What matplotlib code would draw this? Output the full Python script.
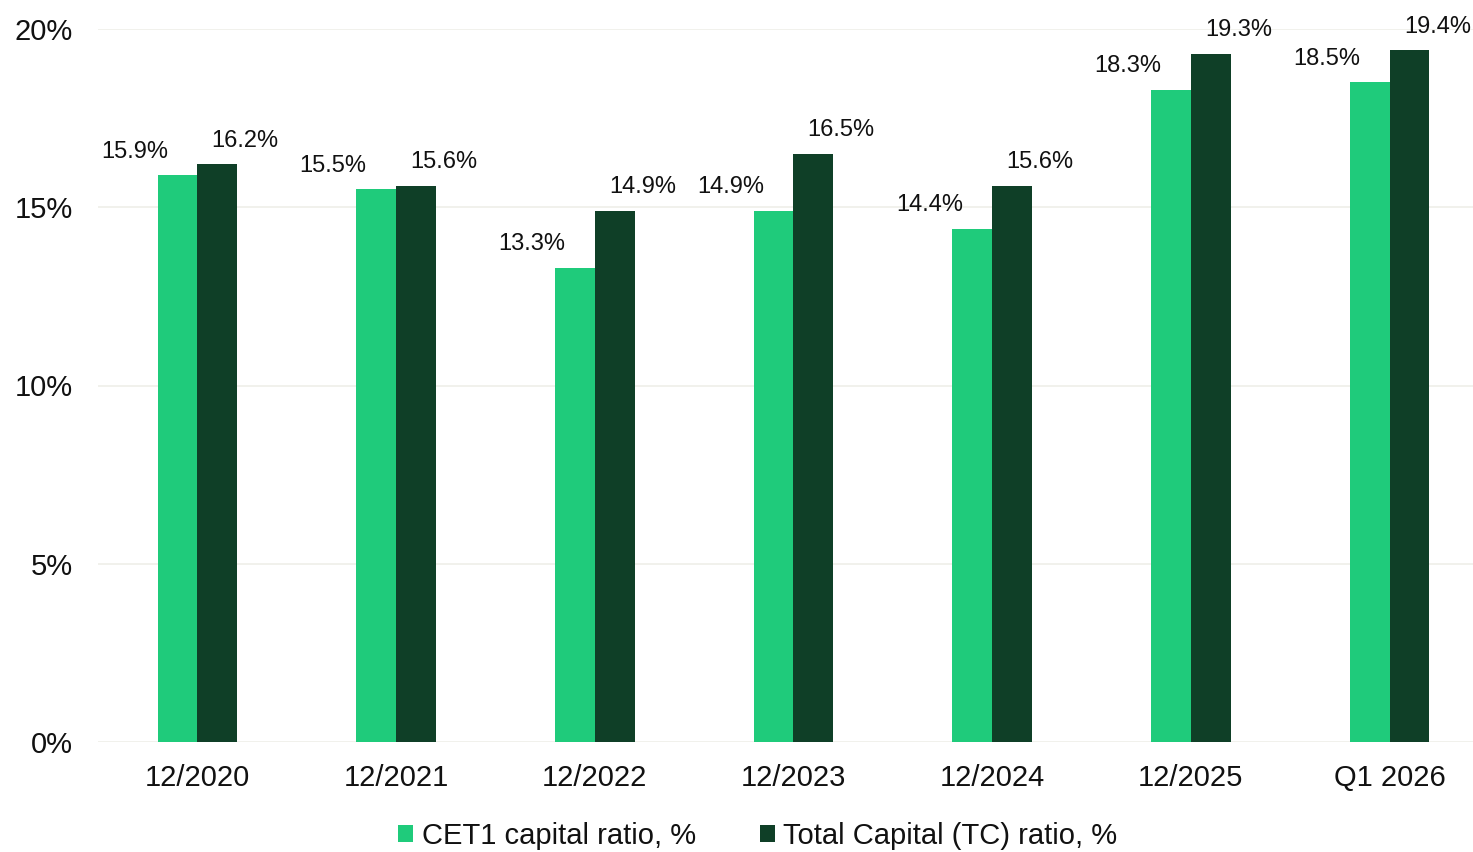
import matplotlib
matplotlib.use("Agg")
import matplotlib.pyplot as plt
import numpy as np

categories = ["12/2020", "12/2021", "12/2022", "12/2023", "12/2024", "12/2025", "Q1 2026"]
cet1 = [15.9, 15.5, 13.3, 14.9, 14.4, 18.3, 18.5]
tc = [16.2, 15.6, 14.9, 16.5, 15.6, 19.3, 19.4]
yticks = [0, 5, 10, 15, 20]

plt.rcParams['font.family'] = ['Liberation Sans', 'DejaVu Sans']

c_light = "#1fcb7b"
c_dark = "#0f3f27"

fig = plt.figure(figsize=(14.73, 8.52), dpi=100)
ax = fig.add_axes([98/1473, 1-742/852, 1391/1473, (742-29)/852])

x = np.arange(len(categories))
w = 0.2
b1 = ax.bar(x - w/2, cet1, w, color=c_light, label="CET1 capital ratio, %", zorder=3)
b2 = ax.bar(x + w/2, tc, w, color=c_dark, label="Total Capital (TC) ratio, %", zorder=3)

for xi, v in zip(x, cet1):
    ax.annotate(f"{v:.1f}%", (xi - w/2, v), xytext=(-31, 9), textcoords="offset points",
                ha="center", va="bottom", fontsize=17, color="#111111")
for xi, v in zip(x, tc):
    ax.annotate(f"{v:.1f}%", (xi + w/2, v), xytext=(20, 9), textcoords="offset points",
                ha="center", va="bottom", fontsize=17, color="#111111", annotation_clip=False)

ax.set_xlim(-0.5, len(categories) - 0.5)
ax.set_ylim(0, 20)
ax.set_yticks(yticks)
ax.set_yticklabels([f"{t}%" for t in yticks], fontsize=21, color="#111111")
ax.set_xticks(x)
ax.set_xticklabels(categories, fontsize=21, color="#111111")
ax.tick_params(axis='y', length=0, pad=18)
ax.tick_params(axis='x', length=0, pad=16)
ax.grid(axis='y', color="#efefe9", linewidth=1.2, zorder=0)
for s in ax.spines.values():
    s.set_visible(False)

leg = fig.legend(handles=[b1, b2], loc="center", bbox_to_anchor=(758/1473, 1-836/852),
                 ncol=2, frameon=False, fontsize=21, handlelength=0.5, handleheight=0.5,
                 handletextpad=0.3, columnspacing=2.2)
for t in leg.get_texts():
    t.set_color("#111111")

fig.savefig("out.png", dpi=100)
